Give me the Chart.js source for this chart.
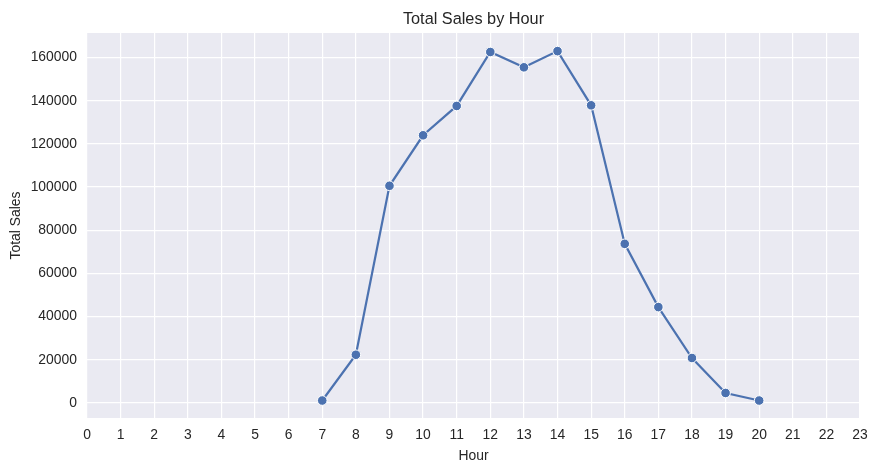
<!DOCTYPE html>
<html>
<head>
<meta charset="utf-8">
<title>Total Sales by Hour</title>
<script src="https://cdn.jsdelivr.net/npm/chart.js@4"></script>
<style>
    html, body { margin: 0; padding: 0; background: #fff; }
    #wrap { width: 878px; height: 471px; }
</style>
</head>
<body>
<div id="wrap"><canvas id="salesChart" width="878" height="471"></canvas></div>
<script>
// values
const hours = [7, 8, 9, 10, 11, 12, 13, 14, 15, 16, 17, 18, 19, 20];
const totalSales = [1100, 22300, 100600, 124000, 137600, 162600, 155500, 163000, 137900, 73700, 44400, 20800, 4600, 1100];
const yTicks = [0, 20000, 40000, 60000, 80000, 100000, 120000, 140000, 160000];

const textColor = '#262626';
const lineColor = '#4C72B0';
const chartTitle = 'Total Sales by Hour';

// seaborn-like grey panel behind the plot, title centred over the plot area
const panelBg = {
    id: 'panelBg',
    beforeDraw(chart) {
        const { ctx, chartArea } = chart;
        ctx.save();
        ctx.fillStyle = '#EAEAF2';
        ctx.fillRect(chartArea.left, chartArea.top, chartArea.right - chartArea.left, chartArea.bottom - chartArea.top);
        ctx.fillStyle = textColor;
        ctx.font = '16.3px "Liberation Sans"';
        ctx.textAlign = 'center';
        ctx.textBaseline = 'middle';
        ctx.fillText(chartTitle, (chartArea.left + chartArea.right) / 2, 19.5);
        ctx.restore();
    }
};

const ctx = document.getElementById('salesChart').getContext('2d');
let salesChart = new Chart(ctx, {
    type: 'line',
    data: {
        datasets: [{
            label: 'Total Sales',
            data: hours.map((h, i) => ({ x: h, y: totalSales[i] })),
            borderColor: lineColor,
            borderWidth: 2.2,
            backgroundColor: lineColor,
            pointBackgroundColor: lineColor,
            pointBorderColor: '#ffffff',
            pointBorderWidth: 1,
            pointRadius: 4.8,
            tension: 0
        }]
    },
    options: {
        responsive: false,
        animation: false,
        layout: {
            autoPadding: false,
            padding: { left: 8, right: 18, top: 33, bottom: 6 }
        },
        plugins: {
            legend: { display: false },
            tooltip: { enabled: false },
            title: { display: false }
        },
        scales: {
            x: {
                type: 'linear',
                min: 0,
                max: 23,
                border: { display: false },
                grid: { color: '#ffffff', lineWidth: 1.2, drawTicks: false },
                ticks: {
                    stepSize: 1,
                    padding: 9,
                    color: textColor,
                    font: { family: 'Liberation Sans', size: 13.9 }
                },
                title: {
                    display: true,
                    text: 'Hour',
                    color: textColor,
                    padding: 0,
                    font: { family: 'Liberation Sans', size: 13.9 }
                },
                afterFit(scale) { scale.height = 47; }
            },
            y: {
                min: -7000,
                max: 171400,
                border: { display: false },
                grid: { color: '#ffffff', lineWidth: 1.2, drawTicks: false },
                afterBuildTicks(scale) {
                    scale.ticks = yTicks.map(v => ({ value: v }));
                },
                ticks: {
                    padding: 10,
                    color: textColor,
                    font: { family: 'Liberation Sans', size: 13.9 },
                    callback: v => String(v)
                },
                title: {
                    display: true,
                    text: 'Total Sales',
                    color: textColor,
                    padding: 0,
                    font: { family: 'Liberation Sans', size: 13.9 }
                },
                afterFit(scale) { scale.width = 79; }
            }
        }
    },
    plugins: [panelBg]
});
</script>
</body>
</html>
